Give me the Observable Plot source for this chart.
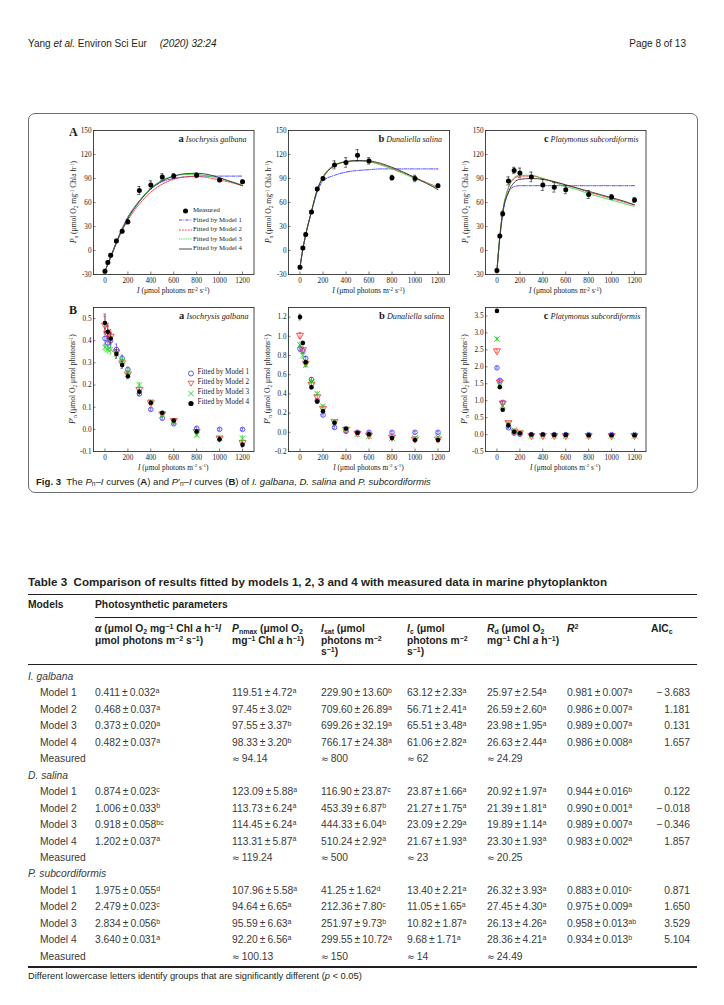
<!DOCTYPE html>
<html><head><meta charset="utf-8">
<script src="https://cdn.jsdelivr.net/npm/d3@7"></script>
<script src="https://cdn.jsdelivr.net/npm/@observablehq/plot@0.6"></script>
<style>
html,body{margin:0;padding:0;background:#fff;}
#page{position:relative;width:724px;height:1005px;overflow:hidden;font-family:"Liberation Sans Narrow","Liberation Sans",sans-serif;color:#231f20;}
.t{position:absolute;white-space:nowrap;line-height:1;}
.serif{font-family:"Liberation Serif","DejaVu Serif",serif;color:#1a1a1a;}
.t sub,.t sup{font-size:68%;line-height:0;position:relative;vertical-align:baseline;}
.t sup{top:-0.45em;} .t sub{top:0.3em;}
.cell{color:#3a3a3a;font-size:10.3px;}
.hdr{font-weight:bold;font-size:10.3px;line-height:11.4px;}
.approx{font-family:"DejaVu Sans",sans-serif;font-size:90%;}
</style></head><body><div id="page"></div>
<script>
// ===================== DATA =====================
const lightLevels = [0, 25, 50, 100, 150, 200, 300, 400, 500, 600, 800, 1000, 1200];
const curveLevels = [0, 25, 50, 100, 150, 200, 300, 400, 500, 600, 700, 800, 900, 1000, 1100, 1200];
const xTicks = [0, 200, 400, 600, 800, 1000, 1200];
const pnTicks = [-30, 0, 30, 60, 90, 120, 150];
const ppTicksGalbana = [-0.1, 0.0, 0.1, 0.2, 0.3, 0.4, 0.5];
const ppTicksSalina = [-0.2, 0.0, 0.2, 0.4, 0.6, 0.8, 1.0, 1.2];
const ppTicksSubcord = [-0.5, 0.0, 0.5, 1.0, 1.5, 2.0, 2.5, 3.0, 3.5];

const speciesNames = ["Isochrysis galbana", "Dunaliella salina", "Platymonus subcordiformis"];
const panelLetters = ["a", "b", "c"];
const legendA = ["Measured", "Fitted by Model 1", "Fitted by Model 2", "Fitted by Model 3", "Fitted by Model 4"];
const legendB = ["Fitted by Model 1", "Fitted by Model 2", "Fitted by Model 3", "Fitted by Model 4"];

// Measured Pn (with SD)
const pnGalbana    = [-26, -15, -6, 12, 24, 36, 75, 82, 92, 93, 94, 88, 86];
const pnGalbanaErr = [2, 2, 2, 2, 2, 3, 5, 5, 4, 3, 3, 2, 2];
const pnSalina     = [-21, 3, 20, 48, 77, 90, 107, 110, 119, 112, 91, 90, 81];
const pnSalinaErr  = [2, 2, 2, 2, 2, 2, 5, 6, 7, 4, 3, 4, 2];
const pnSubcord    = [-25, 18, 46, 87, 100, 97, 92, 82, 79, 76, 70, 67, 63];
const pnSubcordErr = [2, 2, 3, 5, 4, 6, 6, 7, 6, 5, 5, 3, 3];

// Fitted Pn curves (read at curveLevels)
const fitGalbanaM1 = [-26, -17, -8, 11, 28, 42, 62, 77, 86, 90, 92, 93, 93, 93, 93, 93];
const fitGalbanaM2 = [-26, -17, -9, 9, 25, 38, 58, 73, 83, 89, 92, 92.5, 91, 88, 85, 81];
const fitGalbanaM3 = [-26, -17, -8, 10, 27, 41, 62, 78, 88, 93, 95, 95, 93, 90, 86, 82];
const fitGalbanaM4 = [-26, -17, -8, 10, 26, 40, 61, 77, 87, 93, 96, 96.5, 95, 91, 86, 81];
const fitSalinaM1  = [-21, 2, 20, 48, 73, 87, 94, 98, 100, 101, 102, 102, 102, 102, 102, 102];
const fitSalinaM2  = [-21, 2, 20, 49, 76, 92, 106, 111, 112, 111, 108, 103, 97, 91, 85, 79];
const fitSalinaM3  = [-21, 2, 20, 49, 76, 92, 107, 111, 112, 111, 107, 102, 96, 90, 84, 78];
const fitSalinaM4  = [-21, 2, 20, 49, 76, 91, 106, 111, 112.5, 112, 109, 104, 98, 91, 84, 76];
const fitSubcordM1 = [-25, 15, 45, 72, 80, 81, 81, 81, 81, 81, 81, 81, 81, 81, 81, 81];
const fitSubcordM2 = [-25, 18, 48, 78, 90, 93, 93, 90, 86, 82, 78, 73, 69, 65, 61, 57];
const fitSubcordM3 = [-25, 18, 48, 79, 91, 94, 94, 90, 85, 80, 76, 71, 67, 63, 59, 55];
const fitSubcordM4 = [-25, 17, 47, 73, 85, 89, 90, 89, 86, 82, 78, 74, 70, 66, 62, 57];

// P'n values (with SD) for each model
const ppGalbanaM1 = [0.41, 0.39, 0.40, 0.36, 0.32, 0.27, 0.16, 0.09, 0.05, 0.025, 0.005, 0.0, 0.0];
const ppGalbanaM2 = [0.47, 0.43, 0.42, 0.35, 0.30, 0.25, 0.18, 0.12, 0.07, 0.04, -0.01, -0.04, -0.06];
const ppGalbanaM3 = [0.37, 0.36, 0.36, 0.34, 0.31, 0.26, 0.20, 0.125, 0.065, 0.035, -0.025, -0.04, -0.04];
const ppGalbanaM4 = [0.48, 0.44, 0.41, 0.34, 0.29, 0.24, 0.17, 0.12, 0.075, 0.04, -0.01, -0.045, -0.07];
const ppGalbanaM1Err = [0.03, 0.03, 0.03, 0.025, 0.015, 0.01, 0.008, 0.005, 0.005, 0.005, 0.005, 0.005, 0.005];
const ppGalbanaM2Err = [0.04, 0.035, 0.03, 0.02, 0.015, 0.01, 0.008, 0.006, 0.005, 0.005, 0.005, 0.005, 0.005];
const ppGalbanaM3Err = [0.015, 0.015, 0.02, 0.015, 0.012, 0.02, 0.01, 0.008, 0.006, 0.005, 0.008, 0.01, 0.01];
const ppGalbanaM4Err = [0.04, 0.03, 0.025, 0.02, 0.015, 0.012, 0.01, 0.008, 0.006, 0.005, 0.008, 0.01, 0.01];

const ppSalinaM1 = [0.87, 0.85, 0.77, 0.55, 0.33, 0.18, 0.05, 0.01, 0.0, 0.0, 0.0, 0.0, 0.0];
const ppSalinaM2 = [1.01, 0.86, 0.72, 0.50, 0.37, 0.25, 0.11, 0.03, -0.01, -0.03, -0.05, -0.07, -0.07];
const ppSalinaM3 = [0.91, 0.80, 0.70, 0.53, 0.40, 0.27, 0.11, 0.03, -0.02, -0.04, -0.06, -0.06, -0.05];
const ppSalinaM4 = [1.20, 0.93, 0.73, 0.47, 0.32, 0.22, 0.10, 0.04, -0.005, -0.02, -0.06, -0.08, -0.08];
const ppSalinaM1Err = [0.03, 0.03, 0.02, 0.02, 0.015, 0.01, 0.01, 0.01, 0.01, 0.01, 0.01, 0.01, 0.01];
const ppSalinaM2Err = [0.03, 0.03, 0.02, 0.02, 0.02, 0.015, 0.01, 0.01, 0.01, 0.01, 0.01, 0.01, 0.01];
const ppSalinaM3Err = [0.03, 0.03, 0.02, 0.02, 0.02, 0.015, 0.01, 0.01, 0.01, 0.01, 0.01, 0.01, 0.01];
const ppSalinaM4Err = [0.03, 0.02, 0.02, 0.02, 0.015, 0.015, 0.01, 0.01, 0.01, 0.01, 0.01, 0.01, 0.01];

const ppSubcordM1 = [1.97, 1.60, 0.95, 0.20, 0.04, 0.01, 0.0, 0.0, 0.0, 0.0, 0.0, 0.0, 0.0];
const ppSubcordM2 = [2.47, 1.55, 0.93, 0.35, 0.10, 0.05, -0.03, -0.03, -0.03, -0.03, -0.03, -0.03, -0.03];
const ppSubcordM3 = [2.82, 1.45, 0.85, 0.33, 0.13, 0.06, -0.04, -0.04, -0.04, -0.04, -0.04, -0.04, -0.04];
const ppSubcordM4 = [3.65, 1.40, 0.73, 0.27, 0.08, 0.04, 0.0, 0.0, -0.01, -0.01, -0.02, -0.02, -0.02];
const ppSubcordM1Err = [0.03, 0.04, 0.03, 0.02, 0.02, 0.01, 0.01, 0.01, 0.01, 0.01, 0.01, 0.01, 0.01];
const ppSubcordM2Err = [0.05, 0.04, 0.03, 0.02, 0.02, 0.01, 0.01, 0.01, 0.01, 0.01, 0.01, 0.01, 0.01];
const ppSubcordM3Err = [0.05, 0.04, 0.03, 0.02, 0.02, 0.01, 0.01, 0.01, 0.01, 0.01, 0.01, 0.01, 0.01];
const ppSubcordM4Err = [0.03, 0.04, 0.03, 0.02, 0.02, 0.01, 0.01, 0.01, 0.01, 0.01, 0.01, 0.01, 0.01];

// Table 3
const tableGroups = ["I. galbana", "D. salina", "P. subcordiformis"];
const tableRowLabels = ["Model 1", "Model 2", "Model 3", "Model 4", "Measured"];
const galbanaTable = [
  ["0.411±0.032^a", "119.51±4.72^a", "229.90±13.60^b", "63.12±2.33^a", "25.97±2.54^a", "0.981±0.007^a", "−3.683"],
  ["0.468±0.037^a", "97.45±3.02^b", "709.60±26.89^a", "56.71±2.41^a", "26.59±2.60^a", "0.986±0.007^a", "1.181"],
  ["0.373±0.020^a", "97.55±3.37^b", "699.26±32.19^a", "65.51±3.48^a", "23.98±1.95^a", "0.989±0.007^a", "0.131"],
  ["0.482±0.037^a", "98.33±3.20^b", "766.17±24.38^a", "61.06±2.82^a", "26.63±2.44^a", "0.986±0.008^a", "1.657"],
  ["", "≈94.14", "≈800", "≈62", "≈24.29", "", ""]
];
const salinaTable = [
  ["0.874±0.023^c", "123.09±5.88^a", "116.90±23.87^c", "23.87±1.66^a", "20.92±1.97^a", "0.944±0.016^b", "0.122"],
  ["1.006±0.033^b", "113.73±6.24^a", "453.39±6.87^b", "21.27±1.75^a", "21.39±1.81^a", "0.990±0.001^a", "−0.018"],
  ["0.918±0.058^bc", "114.45±6.24^a", "444.33±6.04^b", "23.09±2.29^a", "19.89±1.14^a", "0.989±0.007^a", "−0.346"],
  ["1.202±0.037^a", "113.31±5.87^a", "510.24±2.92^a", "21.67±1.93^a", "23.30±1.93^a", "0.983±0.002^a", "1.857"],
  ["", "≈119.24", "≈500", "≈23", "≈20.25", "", ""]
];
const subcordTable = [
  ["1.975±0.055^d", "107.96±5.58^a", "41.25±1.62^d", "13.40±2.21^a", "26.32±3.93^a", "0.883±0.010^c", "0.871"],
  ["2.479±0.023^c", "94.64±6.65^a", "212.36±7.80^c", "11.05±1.65^a", "27.45±4.30^a", "0.975±0.009^a", "1.650"],
  ["2.834±0.056^b", "95.59±6.63^a", "251.97±9.73^b", "10.82±1.87^a", "26.13±4.26^a", "0.958±0.013^ab", "3.529"],
  ["3.640±0.031^a", "92.20±6.56^a", "299.55±10.72^a", "9.68±1.71^a", "28.36±4.21^a", "0.934±0.013^b", "5.104"],
  ["", "≈100.13", "≈150", "≈14", "≈24.49", "", ""]
];

// ===================== STYLE / LAYOUT =====================
const modelColors = ["#3535ff", "#ff2b2b", "#1ed41e", "#333333"];
const modelDash = ["3.2,1.2,0.8,1.2", "1.8,1.1", "0.9,0.9", null];
const X_DOMAIN = [-100, 1300];
const FIG_X = 31, FIG_Y = 116;
const frames = {
  Aa: {x1: 93, x2: 253.5, y1: 130, y2: 274},
  Ab: {x1: 288, x2: 449, y1: 130, y2: 274},
  Ac: {x1: 485, x2: 645.5, y1: 130, y2: 274},
  Ba: {x1: 93, x2: 253.5, y1: 307, y2: 451},
  Bb: {x1: 288, x2: 449, y1: 307, y2: 451},
  Bc: {x1: 485, x2: 645.5, y1: 307, y2: 451}
};

const page = document.getElementById("page");
function put(parent, html, x, y, o = {}) {
  const d = document.createElement("div");
  d.className = "t" + (o.cls ? " " + o.cls : "");
  d.innerHTML = html;
  d.style.left = x + "px"; d.style.top = y + "px";
  let tf = "";
  if (o.align === "center") tf += "translateX(-50%) ";
  if (o.align === "right") tf += "translateX(-100%) ";
  if (!o.noV) tf += "translateY(-50%)";
  if (o.rotate) tf = "translate(-50%,-50%) rotate(-90deg)";
  d.style.transform = tf;
  if (o.size) d.style.fontSize = o.size + "px";
  if (o.weight) d.style.fontWeight = o.weight;
  if (o.color) d.style.color = o.color;
  if (o.css) d.style.cssText += o.css;
  parent.appendChild(d);
  return d;
}

// ---------- page header ----------
put(page, 'Yang <i>et al.</i> Environ Sci Eur<span style="display:inline-block;width:13px"></span><i>(2020) 32:24</i>', 28, 44, {size: 10});
put(page, 'Page 8 of 13', 686, 44, {size: 10, align: "right"});

// ---------- figure box ----------
const box = document.createElement("div");
box.style.cssText = "position:absolute;left:28px;top:113px;width:670px;height:380px;border:1.6px solid #6d6e71;border-radius:7px;box-sizing:border-box;";
page.appendChild(box);
const fig = document.createElement("div");
fig.style.cssText = `position:absolute;left:${FIG_X}px;top:${FIG_Y}px;width:664px;height:357px;overflow:hidden;`;
page.appendChild(fig);

function addPanel(fr, yDomain, yTicks, yFmt, dataMarks) {
  const ml = 30, mr = 3, mt = 3, mb = 24;
  const fw = fr.x2 - fr.x1, fh = fr.y2 - fr.y1;
  const svg = Plot.plot({
    width: fw + ml + mr, height: fh + mt + mb,
    marginLeft: ml, marginRight: mr, marginTop: mt, marginBottom: mb,
    style: {fontFamily: '"Liberation Serif", serif', fontSize: "7.2px", color: "#1a1a1a", background: "transparent", overflow: "visible"},
    x: {type: "linear", domain: X_DOMAIN},
    y: {type: "linear", domain: yDomain},
    marks: [
      ...dataMarks,
      Plot.tickX(xTicks, {x: d => d, insetTop: fh - 2.5, stroke: "#222", strokeWidth: 0.6}),
      Plot.tickY(yTicks, {y: d => d, insetRight: fw - 2.5, stroke: "#222", strokeWidth: 0.6}),
      Plot.axisX(xTicks, {tickSize: 0, tickPadding: 3.2, label: null, tickFormat: d => String(d)}),
      Plot.axisY(yTicks, {tickSize: 0, tickPadding: 2, label: null, tickFormat: yFmt}),
      Plot.frame({stroke: "#333", strokeWidth: 0.9})
    ]
  });
  svg.style.position = "absolute";
  svg.style.left = (fr.x1 - ml - FIG_X) + "px";
  svg.style.top = (fr.y1 - mt - FIG_Y) + "px";
  fig.appendChild(svg);
}

function pnMarks(measured, err, fits) {
  const pts = lightLevels.map((x, i) => ({x, y: measured[i], e: err[i]}));
  const marks = fits.map((c, m) => Plot.line(curveLevels.map((x, i) => ({x, y: c[i]})), {
    x: "x", y: "y", curve: "monotone-x", stroke: modelColors[m], strokeWidth: 0.9,
    strokeDasharray: modelDash[m]
  }));
  marks.push(
    Plot.ruleX(pts, {x: "x", y1: d => d.y - d.e, y2: d => d.y + d.e, stroke: "#111", strokeWidth: 0.6}),
    Plot.ruleY(pts, {y: d => d.y + d.e, x1: d => d.x - 14, x2: d => d.x + 14, stroke: "#111", strokeWidth: 0.6}),
    Plot.ruleY(pts, {y: d => d.y - d.e, x1: d => d.x - 14, x2: d => d.x + 14, stroke: "#111", strokeWidth: 0.6}),
    Plot.dot(pts, {x: "x", y: "y", r: 2.5, fill: "#000", stroke: "none"})
  );
  return marks;
}

const ppStyles = [
  {symbol: "circle", stroke: modelColors[0], fill: "none", r: 2.3, strokeWidth: 0.8},
  {symbol: "triangle", rotate: 180, stroke: modelColors[1], fill: "none", r: 2.6, strokeWidth: 0.8},
  {symbol: "times", stroke: modelColors[2], fill: "none", r: 2.6, strokeWidth: 0.9},
  {symbol: "circle", fill: "#000", stroke: "none", r: 2.3}
];
function ppMarks(series, errs) {
  const marks = [];
  series.forEach((vals, m) => {
    const pts = lightLevels.map((x, i) => ({x, y: vals[i], e: errs[m][i]}));
    marks.push(
      Plot.ruleX(pts, {x: "x", y1: d => d.y - d.e, y2: d => d.y + d.e, stroke: modelColors[m], strokeWidth: 0.6}),
      Plot.ruleY(pts, {y: d => d.y + d.e, x1: d => d.x - 10, x2: d => d.x + 10, stroke: modelColors[m], strokeWidth: 0.6}),
      Plot.ruleY(pts, {y: d => d.y - d.e, x1: d => d.x - 10, x2: d => d.x + 10, stroke: modelColors[m], strokeWidth: 0.6}),
      Plot.dot(pts, {x: "x", y: "y", ...ppStyles[m]})
    );
  });
  return marks;
}

const fmtInt = d => String(d);
const fmt1 = d => d.toFixed(1);

addPanel(frames.Aa, [-30, 150], pnTicks, fmtInt, pnMarks(pnGalbana, pnGalbanaErr, [fitGalbanaM1, fitGalbanaM2, fitGalbanaM3, fitGalbanaM4]));
addPanel(frames.Ab, [-30, 150], pnTicks, fmtInt, pnMarks(pnSalina, pnSalinaErr, [fitSalinaM1, fitSalinaM2, fitSalinaM3, fitSalinaM4]));
addPanel(frames.Ac, [-30, 150], pnTicks, fmtInt, pnMarks(pnSubcord, pnSubcordErr, [fitSubcordM1, fitSubcordM2, fitSubcordM3, fitSubcordM4]));
addPanel(frames.Ba, [-0.1, 0.55], ppTicksGalbana, fmt1, ppMarks([ppGalbanaM1, ppGalbanaM2, ppGalbanaM3, ppGalbanaM4], [ppGalbanaM1Err, ppGalbanaM2Err, ppGalbanaM3Err, ppGalbanaM4Err]));
addPanel(frames.Bb, [-0.2, 1.3], ppTicksSalina, fmt1, ppMarks([ppSalinaM1, ppSalinaM2, ppSalinaM3, ppSalinaM4], [ppSalinaM1Err, ppSalinaM2Err, ppSalinaM3Err, ppSalinaM4Err]));
addPanel(frames.Bc, [-0.5, 3.75], ppTicksSubcord, fmt1, ppMarks([ppSubcordM1, ppSubcordM2, ppSubcordM3, ppSubcordM4], [ppSubcordM1Err, ppSubcordM2Err, ppSubcordM3Err, ppSubcordM4Err]));

// ---------- figure texts ----------
const yLabA = '<i>P</i><sub>n</sub> (μmol O<sub>2</sub> mg<sup>-1</sup> Chla h<sup>-1</sup>)';
const yLabB = '<i>P</i>\'<sub>n</sub> (μmol O<sub>2</sub> μmol photons<sup>-1</sup>)';
const xLab = '<i>I</i> (μmol photons m<sup>-2</sup> s<sup>-1</sup>)';
const rowA = [frames.Aa, frames.Ab, frames.Ac], rowB = [frames.Ba, frames.Bb, frames.Bc];
rowA.forEach((fr, i) => {
  put(fig, yLabA, fr.x1 - 19 - FIG_X, (fr.y1 + fr.y2) / 2 - FIG_Y, {cls: "serif", size: 7.6, rotate: true});
  put(fig, xLab, (fr.x1 + fr.x2) / 2 - FIG_X, fr.y2 + 17 - FIG_Y, {cls: "serif", size: 7.6, align: "center"});
  put(fig, `<b style="font-size:10.5px">${panelLetters[i]}</b> <i>${speciesNames[i]}</i>`, fr.x2 - 7 - FIG_X, fr.y1 + 8.5 - FIG_Y, {cls: "serif", size: 8, align: "right"});
});
rowB.forEach((fr, i) => {
  put(fig, yLabB, fr.x1 - 20 - FIG_X, (fr.y1 + fr.y2) / 2 - FIG_Y, {cls: "serif", size: 7.6, rotate: true});
  put(fig, xLab, (fr.x1 + fr.x2) / 2 - FIG_X, fr.y2 + 16.5 - FIG_Y, {cls: "serif", size: 7.4, align: "center"});
  put(fig, `<b style="font-size:10.5px">${panelLetters[i]}</b> <i>${speciesNames[i]}</i>`, fr.x2 - 5 - FIG_X, fr.y1 + 9 - FIG_Y, {cls: "serif", size: 8.2, align: "right"});
});
put(fig, "A", 69 - FIG_X, 131.5 - FIG_Y, {cls: "serif", size: 12, weight: "bold"});
put(fig, "B", 69 - FIG_X, 309.5 - FIG_Y, {cls: "serif", size: 12, weight: "bold"});

// legends
function legendSample(kind, m) {
  if (kind === "dot") return `<svg width="13" height="6" style="vertical-align:middle"><circle cx="6.5" cy="3" r="2.5" fill="#000"/></svg>`;
  if (kind === "line") return `<svg width="13" height="6" style="vertical-align:middle"><line x1="0" x2="13" y1="3" y2="3" stroke="${modelColors[m]}" stroke-width="0.9" ${modelDash[m] ? `stroke-dasharray="${modelDash[m]}"` : ""}/></svg>`;
  const s = ppStyles[m];
  if (m === 0) return `<svg width="8" height="7" style="vertical-align:middle"><circle cx="4" cy="3.5" r="2.5" fill="none" stroke="${s.stroke}" stroke-width="0.8"/></svg>`;
  if (m === 1) return `<svg width="8" height="7" style="vertical-align:middle"><path d="M1,1.2 L7,1.2 L4,6.2 Z" fill="none" stroke="${s.stroke}" stroke-width="0.8"/></svg>`;
  if (m === 2) return `<svg width="8" height="7" style="vertical-align:middle"><path d="M1.2,0.8 L6.8,6.2 M6.8,0.8 L1.2,6.2" stroke="${s.stroke}" stroke-width="0.9"/></svg>`;
  return `<svg width="8" height="7" style="vertical-align:middle"><circle cx="4" cy="3.5" r="2.6" fill="#000"/></svg>`;
}
const legA_y = [210, 219.5, 229, 238.5, 248];
legendA.forEach((lab, i) => {
  put(fig, i === 0 ? legendSample("dot") : legendSample("line", i - 1), 178.5 - FIG_X, legA_y[i] - FIG_Y, {});
  put(fig, lab, 193 - FIG_X, legA_y[i] - FIG_Y, {cls: "serif", size: 6.8});
});
const legB_y = [373, 383, 393, 403];
legendB.forEach((lab, i) => {
  put(fig, legendSample("pp", i), 186.7 - FIG_X, legB_y[i] - FIG_Y, {});
  put(fig, lab, 197.5 - FIG_X, legB_y[i] - FIG_Y, {cls: "serif", size: 7.2});
});

// caption
put(page, '<b>Fig. 3</b>&nbsp; The <i>P</i><sub>n</sub>–<i>I</i> curves (<b>A</b>) and <i>P</i>′<sub>n</sub>–<i>I</i> curves (<b>B</b>) of <i>I. galbana</i>, <i>D. salina</i> and <i>P. subcordiformis</i>', 36, 481.5, {size: 9.6});

// ---------- table ----------
put(page, '<b>Table 3</b>&nbsp; <b>Comparison of results fitted by models 1, 2, 3 and 4 with measured data in marine phytoplankton</b>', 28, 582, {size: 11.6});
function rule(x1, x2, y, w, c) {
  const d = document.createElement("div");
  d.style.cssText = `position:absolute;left:${x1}px;top:${y - w / 2}px;width:${x2 - x1}px;height:${w}px;background:${c};`;
  page.appendChild(d);
}
rule(28, 697, 594.5, 1.3, "#231f20");
put(page, 'Models', 28, 605, {size: 10.3, weight: "bold"});
put(page, 'Photosynthetic parameters', 95, 605, {size: 10.3, weight: "bold"});
rule(95, 697, 617.5, 0.9, "#231f20");
const colX = [95, 232, 321, 407, 487, 567];
const headers = [
  '<i>α</i> (μmol O<sub>2</sub> mg<sup>−1</sup> Chl <i>a</i> h<sup>−1</sup>/<br>μmol photons m<sup>−2</sup> s<sup>−1</sup>)',
  '<i>P</i><sub>nmax</sub> (μmol O<sub>2</sub><br>mg<sup>−1</sup> Chl <i>a</i> h<sup>−1</sup>)',
  '<i>I</i><sub>sat</sub> (μmol<br>photons m<sup>−2</sup><br>s<sup>−1</sup>)',
  '<i>I</i><sub>c</sub> (μmol<br>photons m<sup>−2</sup><br>s<sup>−1</sup>)',
  '<i>R</i><sub>d</sub> (μmol O<sub>2</sub><br>mg<sup>−1</sup> Chl <i>a</i> h<sup>−1</sup>)',
  '<i>R</i><sup>2</sup>'
];
headers.forEach((h, i) => {
  const d = put(page, h, colX[i], 623.3, {cls: "hdr", noV: true});
  d.style.lineHeight = "11.4px";
});
put(page, 'AIC<sub>c</sub>', 651, 623.3, {cls: "hdr", noV: true}).style.lineHeight = "11.4px";
rule(28, 697, 664, 0.9, "#231f20");

function fmtCell(s) {
  if (!s) return "";
  let [v, sup] = s.split("^");
  v = v.replace("±", "\u2009±\u2009").replace("≈", '<span class="approx">≈</span>\u2009').replace("−", "−\u2009");
  return sup ? `${v}<sup>${sup}</sup>` : v;
}
const tables = [galbanaTable, salinaTable, subcordTable];
const rowStep = 16.45;
tables.forEach((tbl, gi) => {
  const y0 = 677 + gi * 6 * rowStep;
  put(page, `<i>${tableGroups[gi]}</i>`, 28, y0, {cls: "cell"});
  tbl.forEach((row, ri) => {
    const y = y0 + (ri + 1) * rowStep;
    put(page, tableRowLabels[ri], 40, y, {cls: "cell"});
    row.forEach((cell, ci) => {
      if (!cell) return;
      if (ci === 6) put(page, fmtCell(cell), 690, y, {cls: "cell", align: "right"});
      else put(page, fmtCell(cell), colX[ci], y, {cls: "cell"});
    });
  });
});
rule(28, 697, 967, 1.1, "#231f20");
put(page, 'Different lowercase letters identify groups that are significantly different (<i>p</i> &lt; 0.05)', 28, 977, {size: 9.3});
</script></body></html>
